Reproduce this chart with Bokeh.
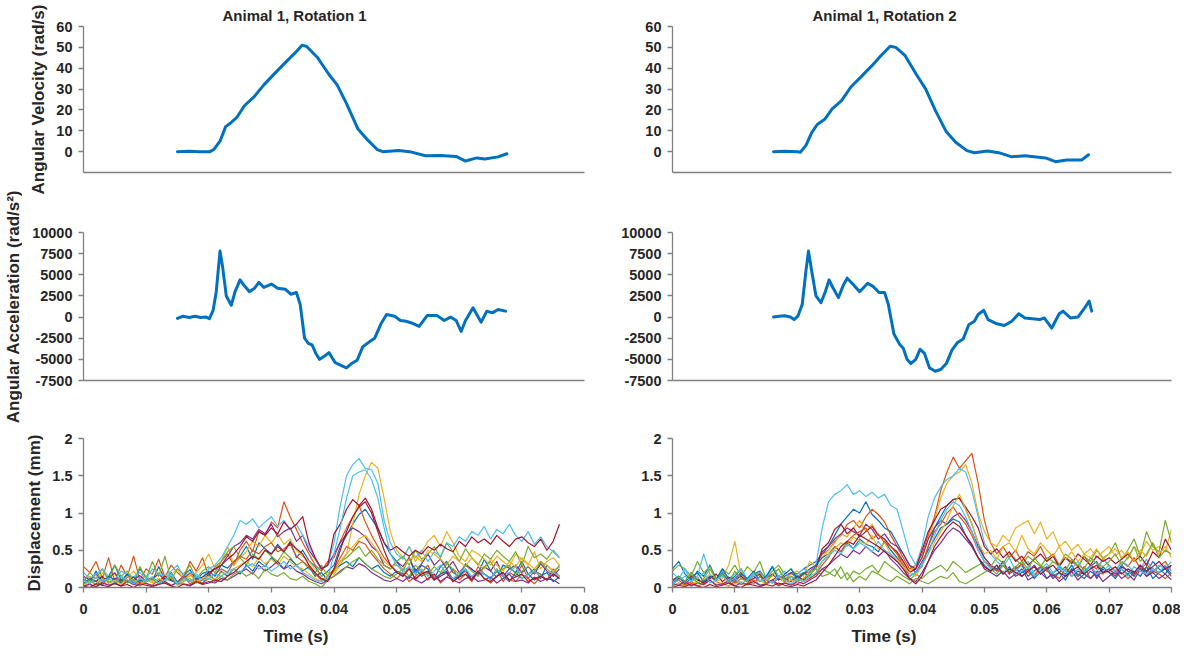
import math
from bokeh.plotting import figure
from bokeh.layouts import row, column
from bokeh.models import Range1d, FixedTicker, CustomJSTickFormatter, Label, Title
from bokeh.embed import file_html
from bokeh.resources import INLINE

# ---------------- data ----------------
TITLES = ["Animal 1, Rotation 1", "Animal 1, Rotation 2"]
X_TICKS = [0, 0.01, 0.02, 0.03, 0.04, 0.05, 0.06, 0.07, 0.08]
VEL_TICKS = [0, 10, 20, 30, 40, 50, 60]
ACC_TICKS = [-7500, -5000, -2500, 0, 2500, 5000, 7500, 10000]
DISP_TICKS = [0, 0.5, 1, 1.5, 2]

VEL_L_T = [0.0150, 0.0170, 0.0185, 0.0202, 0.0208, 0.0218, 0.0227, 0.0236, 0.0245, 0.0257,
           0.0273, 0.0288, 0.0307, 0.0325, 0.0340, 0.0349, 0.0356, 0.0374, 0.0392, 0.0405,
           0.0420, 0.0438, 0.0454, 0.0469, 0.0478, 0.0503, 0.0521, 0.0546, 0.0570, 0.0595,
           0.0610, 0.0628, 0.0641, 0.0662, 0.0676]
VEL_L = [0, 0.2, 0, 0, 1, 5, 12, 14, 16.5, 22,
         26.5, 32, 38, 43.5, 48, 51, 50.5, 45, 37, 32,
         23, 11, 5.5, 1, 0, 0.5, 0, -2, -1.8, -2.3,
         -4.5, -3, -3.5, -2.5, -1]

VEL_R_T = [0.0162, 0.0180, 0.0200, 0.0205, 0.0214, 0.0223, 0.0232, 0.0244, 0.0256, 0.0271,
           0.0286, 0.0301, 0.0319, 0.0334, 0.0349, 0.0358, 0.0373, 0.0391, 0.0406, 0.0421,
           0.0439, 0.0454, 0.0472, 0.0484, 0.0505, 0.0523, 0.0544, 0.0565, 0.0598, 0.0614,
           0.0632, 0.0656, 0.0667]
VEL_R = [0, 0.2, 0, -0.3, 3, 9, 13, 15.5, 20.5, 24.5,
         31, 35.5, 41, 46, 50.5, 50, 46, 37, 30, 20,
         9.5, 4.5, 0.5, -0.5, 0.3, -0.5, -2.5, -2, -3, -4.8,
         -4, -4, -1.5]

ACC_L_T = [0.0150, 0.0159, 0.0169, 0.0178, 0.0187, 0.0196, 0.0201, 0.0207, 0.0212, 0.0218,
           0.0222, 0.0228, 0.0236, 0.0242, 0.0250, 0.0257, 0.0265, 0.0273, 0.0280, 0.0288,
           0.0300, 0.0310, 0.0322, 0.0331, 0.0340, 0.0346, 0.0353, 0.0359, 0.0365, 0.0371,
           0.0377, 0.0385, 0.0392, 0.0402, 0.0411, 0.0420, 0.0428, 0.0437, 0.0446, 0.0457,
           0.0465, 0.0475, 0.0484, 0.0497, 0.0506, 0.0515, 0.0524, 0.0536, 0.0549, 0.0564,
           0.0576, 0.0586, 0.0595, 0.0603, 0.0610, 0.0622, 0.0635, 0.0644, 0.0653, 0.0662,
           0.0674]
ACC_L = [-150, 100, -50, 100, -50, 0, -200, 800, 3000, 7800,
         6000, 2500, 1400, 3000, 4400, 3700, 3000, 3400, 4100, 3500,
         3900, 3400, 3300, 2700, 2900, 1500, -2500, -3100, -3300, -4300,
         -5000, -4600, -4200, -5400, -5700, -6000, -5500, -5100, -3500, -2900,
         -2500, -800, 300, 100, -400, -500, -700, -1100, 200, 200,
         -400, 0, -400, -1700, -400, 1100, -600, 700, 500, 900,
         700]

ACC_R_T = [0.0162, 0.0171, 0.0180, 0.0189, 0.0195, 0.0201, 0.0208, 0.0214, 0.0218, 0.0223,
           0.0230, 0.0238, 0.0245, 0.0251, 0.0257, 0.0266, 0.0274, 0.0280, 0.0289, 0.0300,
           0.0313, 0.0322, 0.0331, 0.0340, 0.0346, 0.0355, 0.0364, 0.0370, 0.0376, 0.0382,
           0.0390, 0.0397, 0.0404, 0.0412, 0.0421, 0.0430, 0.0439, 0.0448, 0.0457, 0.0466,
           0.0475, 0.0484, 0.0490, 0.0499, 0.0506, 0.0520, 0.0532, 0.0544, 0.0555, 0.0565,
           0.0577, 0.0589, 0.0596, 0.0608, 0.0620, 0.0626, 0.0638, 0.0650, 0.0662, 0.0668,
           0.0672]
ACC_R = [0, 100, 150, 0, -300, 100, 1500, 5500, 7800, 5500,
         2500, 1700, 3000, 4400, 3500, 2300, 3800, 4600, 3900, 3000,
         4000, 3600, 2900, 2900, 1500, -2000, -3200, -3700, -5000, -5500,
         -5000, -3800, -4300, -6000, -6400, -6200, -5500, -3900, -3000, -2600,
         -900, -500, 300, 800, -300, -800, -1000, -500, 400, -100,
         -200, -300, -100, -1300, 400, 700, -100, 0, 1200, 1900,
         700]

# displacement sample times (ms)
DISP_L_MS = [0, 1, 2, 3, 4, 5, 6, 7, 8, 9, 10, 11, 12, 13, 14, 15, 16, 17, 18, 19,
             20, 21, 22, 23, 24, 25, 26, 27, 28, 29, 30, 31, 32, 33, 34, 35, 36, 37, 38, 39,
             40, 41, 42, 43, 44, 45, 46, 47, 48, 49, 50, 51, 52, 53, 54, 55, 56, 57, 58, 59,
             60, 61, 62, 63, 64, 65, 66, 67, 68, 69, 70, 71, 72, 73, 74, 75, 76]
DISP_R_MS = [0, 1, 2, 3, 4, 5, 6, 7, 8, 9, 10, 11, 12, 13, 14, 15, 16, 17, 18, 19,
             20, 21, 22, 23, 24, 25, 26, 27, 28, 29, 30, 31, 32, 33, 34, 35, 36, 37, 38, 39,
             40, 41, 42, 43, 44, 45, 46, 47, 48, 49, 50, 51, 52, 53, 54, 55, 56, 57, 58, 59,
             60, 61, 62, 63, 64, 65, 66, 67, 68, 69, 70, 71, 72, 73, 74, 75, 76, 77, 78, 79, 80]

# displacement values in hundredths of a mm
DISP_L = [
    [12,5,22,8,15,30,10,18,6,25, 14,9,28,11,20,7,16,24,10,19, 22,15,30,26,35,42,55,38,60,52,
     45,58,48,62,40,50,36,28,15,22, 30,55,70,85,98,105,92,80,60,45, 35,22,40,18,30,25,12,28,35,20,
     15,32,24,18,38,22,14,30,26,20, 35,18,25,12,30,22,28],
    [28,20,35,12,40,8,30,15,42,10, 25,18,38,14,30,20,12,35,22,40, 15,28,35,45,30,50,62,48,75,70,
     88,80,115,95,78,60,45,30,22,35, 40,62,80,95,110,88,70,55,40,30, 22,15,28,10,20,30,12,18,25,8,
     15,22,10,28,18,12,25,8,20,15, 30,12,22,18,10,25,15],
    [10,15,8,20,12,18,6,14,22,10, 16,8,20,12,18,25,10,15,20,30, 45,25,35,55,30,40,48,62,55,70,
     60,72,58,65,50,42,35,25,15,20, 18,30,45,85,125,150,168,160,120,75, 50,40,55,35,48,62,70,55,75,60,
     42,35,50,45,38,30,42,35,28,45, 38,30,48,25,35,40,30],
    [15,10,18,8,12,20,6,14,10,16, 8,12,18,10,14,6,12,20,15,10, 18,25,30,42,55,60,70,65,78,72,
     85,68,75,80,62,70,50,38,25,30, 45,60,72,80,75,68,55,48,30,25, 35,28,40,22,32,45,30,38,25,35,
     20,30,25,18,28,22,35,15,25,30, 20,28,18,32,22,15,25],
    [8,20,12,25,10,30,15,22,8,28, 12,35,15,42,10,25,18,30,12,22, 28,20,35,48,55,40,30,45,38,50,
     42,35,48,40,30,35,25,20,30,15, 22,35,40,48,55,42,50,38,30,25, 35,42,30,50,38,45,55,40,60,48,
     35,52,40,30,45,38,50,42,35,48, 30,55,40,45,38,50,40],
    [20,12,18,25,15,10,22,18,14,20, 12,25,18,15,22,30,14,20,18,12, 25,30,40,55,70,90,85,92,80,88,
     95,82,90,78,85,70,55,40,25,30, 60,110,150,165,173,160,158,140,90,60, 45,38,55,40,50,35,48,42,60,55,
     68,62,75,70,82,65,78,72,85,70, 62,75,58,68,55,48,40],
    [5,10,8,15,6,12,10,8,14,6, 10,12,8,15,10,6,12,18,10,14, 20,25,30,38,45,55,68,62,75,70,
     80,72,88,78,85,95,60,40,25,30, 72,85,105,118,110,120,105,80,60,50, 55,48,42,50,45,55,50,58,52,48,
     62,55,68,60,65,58,70,62,55,65, 68,60,55,65,50,62,85],
    [5,12,8,3,15,10,6,18,4,10, 8,14,5,12,9,6,15,8,12,5, 18,10,22,15,25,18,30,22,35,28,
     40,32,25,38,30,22,28,15,20,10, 25,30,35,28,40,32,25,30,20,15, 22,18,12,25,15,20,10,18,22,12,
     15,25,10,20,18,12,22,15,8,20, 12,18,10,15,20,8,14],
    [2,5,0,8,3,6,2,10,4,8, 5,3,12,6,2,8,15,5,10,6, 12,18,25,20,35,42,38,50,45,55,
     60,48,52,58,42,35,28,18,10,15, 25,40,55,50,62,58,45,35,25,18, 12,20,8,15,22,10,18,6,14,25,
     10,18,8,22,12,6,15,20,10,8, 18,12,5,15,10,20,12],
    [3,8,5,12,6,10,4,15,8,5, 10,6,12,8,15,5,10,18,8,12, 15,10,20,18,25,30,35,28,40,32,
     38,30,42,35,28,25,18,12,8,15, 20,35,45,55,65,70,60,48,35,28, 30,25,38,42,35,50,45,38,30,42,
     35,28,40,32,25,38,30,22,35,28, 40,32,25,35,30,22,28],
    [2,4,1,6,3,5,2,8,4,3, 6,2,5,8,3,6,4,2,7,5, 8,6,12,10,15,20,25,18,30,22,
     28,35,25,30,22,18,12,8,5,10, 15,22,28,25,32,28,20,15,10,8, 12,8,15,10,6,12,18,8,14,10,
     6,12,15,8,10,14,6,12,18,8, 10,6,14,8,12,10,5],
    [5,10,3,12,8,4,15,6,10,2, 8,12,5,10,15,3,8,12,6,10, 12,8,15,10,18,22,15,20,12,25,
     18,15,20,12,10,15,8,5,0,10, 15,20,28,35,40,32,25,20,15,12, 18,25,15,30,22,18,28,20,32,25,
     18,30,22,15,28,35,20,25,30,18, 22,28,20,35,25,18,30],
    [10,5,14,8,12,6,15,10,5,12, 8,14,6,10,18,5,12,8,15,10, 12,18,15,22,25,20,28,32,25,30,
     22,28,35,25,30,20,15,10,8,12, 45,80,120,150,155,158,145,120,80,45, 30,22,28,18,25,15,22,30,18,12,
     20,25,15,22,18,10,25,15,20,28, 12,18,22,15,10,20,15],
    [2,0,5,3,1,6,2,4,0,5, 3,1,4,6,2,0,5,3,8,4, 6,10,8,15,20,28,35,42,38,50,
     45,55,48,60,52,45,30,20,12,8, 25,50,75,95,108,115,100,75,50,30, 20,15,25,12,18,22,10,15,20,8,
     14,18,10,22,12,8,15,20,10,14, 18,8,12,15,10,18,12],
]

DISP_R = [
    [25,35,18,10,22,15,30,12,20,8, 15,25,10,18,22,12,28,15,10,20, 18,25,30,35,45,55,70,85,95,105,
     100,115,98,90,80,75,60,45,30,20, 28,55,80,95,110,118,120,105,85,60, 40,30,22,35,18,25,30,15,22,28,
     12,20,25,18,30,15,22,28,35,20, 25,18,30,22,15,28,20,35,25,18, 30],
    [5,10,3,8,12,5,15,8,4,10, 6,12,8,5,15,10,6,12,8,15, 10,18,22,30,45,50,62,70,85,90,
     80,95,105,98,88,70,55,40,25,30, 45,70,95,130,155,175,160,170,180,140, 90,60,45,55,40,50,35,48,42,55,
     38,45,30,40,35,28,42,30,25,38, 30,22,35,28,40,25,32,20,28,35, 22],
    [5,12,8,15,6,10,18,8,12,30, 62,15,8,12,20,10,15,25,12,18, 22,15,35,28,40,50,60,72,68,80,
     90,75,85,70,65,55,45,35,22,30, 40,65,90,120,140,150,155,165,140,100, 75,60,55,70,62,80,85,90,72,88,
     65,75,55,62,50,58,45,52,40,48, 55,42,50,38,55,45,62,50,55,48, 78],
    [10,15,8,20,12,6,15,10,18,8, 12,20,10,15,8,12,18,10,15,20, 12,18,25,30,48,55,65,72,80,75,
     70,85,78,65,72,60,55,45,30,25, 40,65,80,90,85,95,100,90,75,55, 40,30,25,35,20,28,15,22,30,18,
     25,12,20,28,15,22,18,30,12,25, 20,15,28,22,18,30,15,25,20,28, 18],
    [22,30,25,15,35,20,28,12,25,18, 30,15,28,20,35,12,22,30,18,25, 15,20,12,18,25,20,15,28,10,22,
     18,25,30,20,35,28,22,15,10,18, 12,20,25,30,22,35,28,20,25,30, 35,28,40,32,45,38,30,42,35,28,
     40,35,30,45,38,28,42,35,50,40, 45,60,38,50,65,42,75,55,48,90, 60],
    [20,12,25,8,15,45,18,10,22,12, 18,25,10,15,20,12,28,15,22,10, 18,25,20,30,80,115,125,130,138,125,
     130,122,128,120,125,110,105,75,45,30, 55,95,120,135,145,150,160,155,130,95, 60,45,35,28,40,22,30,35,18,25,
     32,20,28,15,25,35,22,30,18,40, 28,22,35,30,20,25,38,22,30,25, 35],
    [5,12,8,15,10,6,12,18,8,14, 10,15,8,12,18,6,10,15,12,8, 15,10,18,25,52,60,78,85,72,80,
     68,75,82,70,65,55,48,35,20,25, 50,75,90,105,110,118,120,108,95,80, 55,45,52,40,48,35,42,30,38,45,
     35,42,28,40,32,45,38,30,42,35, 40,32,38,45,35,42,30,48,40,65, 50],
    [8,15,5,12,20,8,15,10,25,12, 8,18,12,22,8,15,28,10,18,25, 12,20,15,30,40,45,55,48,60,52,
     65,58,55,48,62,50,40,30,15,20, 35,50,65,80,85,92,88,70,55,40, 30,22,25,18,28,15,20,25,12,22,
     28,15,20,10,25,18,12,22,15,28, 20,12,25,18,22,15,28,12,20,25, 15],
    [2,6,3,8,2,5,10,3,6,2, 8,4,6,10,3,5,8,2,6,4, 5,8,12,18,30,40,55,48,62,70,
     75,80,65,72,60,55,45,30,15,20, 30,55,75,85,100,108,95,85,70,50, 35,28,22,30,18,25,32,20,15,28,
     22,18,12,25,20,15,28,12,22,18, 25,15,20,12,18,25,15,22,18,12, 20],
    [3,6,2,5,8,3,10,4,6,2, 5,8,3,6,10,4,8,15,6,10, 8,12,18,25,35,45,52,60,55,68,
     62,58,70,52,60,45,38,28,20,15, 30,45,60,75,90,110,125,105,85,60, 45,50,38,55,60,48,70,52,45,60,
     50,42,55,38,48,35,45,40,52,38, 45,52,40,48,35,50,42,60,45,55, 40],
    [5,3,8,2,6,4,10,3,5,8, 2,6,4,8,3,5,10,4,6,3, 8,5,10,15,25,30,38,45,40,50,
     45,55,48,42,50,38,30,20,12,8, 20,35,50,60,72,80,75,65,55,40, 25,20,15,22,12,18,25,10,15,20,
     12,18,8,15,22,10,18,12,20,8, 15,22,12,18,10,25,15,20,12,18, 10],
    [3,15,8,20,5,12,25,10,18,6, 22,12,8,20,15,5,18,25,10,15, 8,12,20,25,15,18,25,12,20,8,
     15,10,22,18,12,8,15,10,5,12, 8,5,10,15,12,20,8,5,10,15, 20,25,18,30,22,28,35,25,40,30,
     25,35,28,22,38,30,25,40,32,28, 35,45,30,40,55,35,45,60,40,50, 45],
    [5,10,15,8,12,20,6,10,15,8, 12,5,10,18,8,12,6,15,10,5, 12,8,15,20,35,42,50,45,58,52,
     60,55,48,62,50,45,35,25,15,20, 30,45,70,90,105,115,110,95,75,50, 35,25,30,20,25,18,22,28,15,20,
     25,18,30,22,15,25,20,28,18,22, 30,20,25,15,28,22,18,25,20,30, 22],
    [0,3,1,5,2,0,4,1,3,6, 2,0,5,3,1,4,2,6,3,1, 4,2,6,10,20,30,42,55,62,58,
     70,65,60,55,48,42,35,25,12,5, 15,35,55,68,80,88,82,70,58,40, 28,22,30,18,25,20,15,22,28,18,
     25,30,20,15,22,28,18,25,30,20, 22,28,18,25,20,30,22,28,35,25, 30],
]

# MATLAB-style line colour order
SERIES_COLORS = ["#0072BD", "#D95319", "#EDB120", "#7E2F8E", "#77AC30", "#4DBEEE", "#A2142F"]
MAIN_COLOR = "#0070C0"

FONT = "Liberation Sans"
TXT = "#262626"
AXC = "#7f7f7f"

LABEL_W = 22
LEFT_W, RIGHT_W = 576, 582
LEFT_MB = (61, 14)
RIGHT_MB = (74, 9)
ROWS = [(200, 26, 28), (210, 32, 30), (247, 28, 70)]
# offsets (px from the frame's left edge) of the column title and of "Time (s)"
TITLE_OFFSETS = [139, 140]
XLABEL_OFFSETS = [180, 179]


def fmt():
    return CustomJSTickFormatter(code="return tick.toString();")


def make_fig(width, mb, rowspec, y0, y1, yticks, bottom=False):
    h, mt, mbot = rowspec
    p = figure(width=width, height=h, output_backend="svg", toolbar_location=None,
               x_range=Range1d(0, 0.08), y_range=Range1d(y0, y1),
               min_border_left=mb[0], min_border_right=mb[1],
               min_border_top=mt, min_border_bottom=mbot)
    p.outline_line_color = None
    p.xgrid.visible = False
    p.ygrid.visible = False
    p.background_fill_color = "white"
    p.border_fill_color = "white"
    ya = p.yaxis[0]
    ya.ticker = FixedTicker(ticks=yticks)
    ya.formatter = fmt()
    ya.axis_line_color = AXC
    ya.axis_line_width = 1.3
    ya.major_tick_line_color = AXC
    ya.major_tick_line_width = 1.3
    ya.major_tick_in = 0
    ya.major_tick_out = 5
    ya.minor_tick_line_color = None
    ya.major_label_text_font = FONT
    ya.major_label_text_font_style = "bold"
    ya.major_label_text_font_size = "14.5px"
    ya.major_label_text_color = TXT
    ya.major_label_standoff = 6
    ya.axis_label_text_font = FONT
    ya.axis_label_text_font_style = "bold"
    ya.axis_label_text_font_size = "17px"
    ya.axis_label_text_color = TXT
    ya.axis_label_standoff = 5
    xa = p.xaxis[0]
    xa.axis_line_color = AXC
    xa.axis_line_width = 1.3
    xa.minor_tick_line_color = None
    if bottom:
        xa.ticker = FixedTicker(ticks=X_TICKS)
        xa.formatter = fmt()
        xa.major_tick_line_color = AXC
        xa.major_tick_line_width = 1.3
        xa.major_tick_in = 0
        xa.major_tick_out = 5
        xa.major_label_text_font = FONT
        xa.major_label_text_font_style = "bold"
        xa.major_label_text_font_size = "14.5px"
        xa.major_label_text_color = TXT
        xa.major_label_standoff = 11
    else:
        xa.ticker = FixedTicker(ticks=[])
        xa.major_tick_line_color = None
        xa.major_tick_in = 0
        xa.major_tick_out = 0
        xa.major_label_text_font_size = "0px"
        xa.major_label_standoff = 0
    return p


figs = []
for col in range(2):
    width = LEFT_W if col == 0 else RIGHT_W
    mb = LEFT_MB if col == 0 else RIGHT_MB
    vt, vv = (VEL_L_T, VEL_L) if col == 0 else (VEL_R_T, VEL_R)
    at, av = (ACC_L_T, ACC_L) if col == 0 else (ACC_R_T, ACC_R)
    dms = DISP_L_MS if col == 0 else DISP_R_MS
    dvals = DISP_L if col == 0 else DISP_R

    p1 = make_fig(width, mb, ROWS[0], -10, 60, VEL_TICKS)
    p1.line(vt, vv, line_color=MAIN_COLOR, line_width=3, line_join="round", line_cap="round")
    p1.title.text = TITLES[col]
    p1.title.align = "left"
    p1.title.text_font = FONT
    p1.title.text_font_style = "bold"
    p1.title.text_font_size = "15px"
    p1.title.text_color = TXT
    p1.title.standoff = 5
    p1.title.offset = TITLE_OFFSETS[col]
    if col == 0:
        p1.yaxis[0].axis_label = "Angular Velocity (rad/s)"

    p2 = make_fig(width, mb, ROWS[1], -7500, 10000, ACC_TICKS)
    p2.line(at, av, line_color=MAIN_COLOR, line_width=3, line_join="round", line_cap="round")

    p3 = make_fig(width, mb, ROWS[2], 0, 2, DISP_TICKS, bottom=True)
    ts = [m / 1000.0 for m in dms]
    for i, s in enumerate(dvals):
        p3.line(ts, [v / 100.0 for v in s], line_color=SERIES_COLORS[i % 7],
                line_width=1.2, line_join="round")
    if col == 0:
        p3.yaxis[0].axis_label = "Displacement (mm)"
    p3.add_layout(Title(text="Time (s)", align="left", offset=XLABEL_OFFSETS[col],
                        text_font=FONT, text_font_style="bold", text_font_size="17px",
                        text_color=TXT, standoff=16), "below")
    figs.append(column(p1, p2, p3))

total_h = sum(r[0] for r in ROWS)
lab = figure(width=LABEL_W, height=total_h, output_backend="svg", toolbar_location=None,
             x_range=Range1d(0, LABEL_W), y_range=Range1d(0, total_h),
             x_axis_type=None, y_axis_type=None,
             min_border_left=0, min_border_right=0, min_border_top=0, min_border_bottom=0)
lab.outline_line_color = None
lab.xgrid.visible = False
lab.ygrid.visible = False
lab.add_layout(Label(x=13, y=total_h - 306, text="Angular Acceleration (rad/s²)",
                     angle=math.pi / 2, text_align="center", text_baseline="middle",
                     text_font=FONT, text_font_style="bold", text_font_size="17px",
                     text_color=TXT))

layout = row(lab, figs[0], figs[1])
open("out.html", "w").write(file_html(layout, INLINE))
